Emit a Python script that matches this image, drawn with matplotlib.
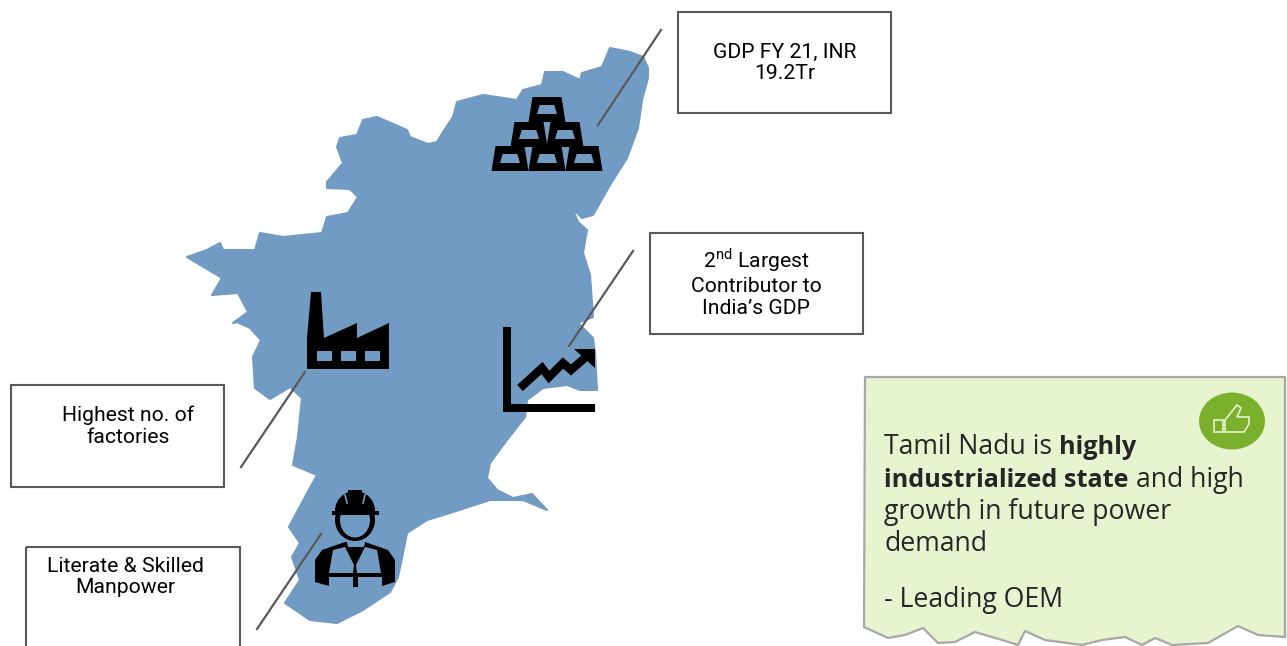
import matplotlib
matplotlib.use("Agg")
import matplotlib.pyplot as plt
from matplotlib.patches import Polygon, Rectangle, Ellipse, Wedge

plt.rcParams["font.family"] = ["Roboto", "DejaVu Sans"]
plt.rcParams["mathtext.fontset"] = "custom"
plt.rcParams["mathtext.rm"] = "Roboto"

MAP_BLUE = "#719BC2"
GREY = "#595959"
NOTE_FILL = "#E6F4CF"
NOTE_EDGE = "#A8A8A8"
GREEN = "#7AB02C"

map_outline = [(610,48),(630,52),(643,57),(648,68),(648,78),(642,100),(638,128),(627,158),(610,185),(593,215),(582,218),
 (572,208),(578,222),(587,230),(583,253),(590,275),(593,317),(578,323),(593,338),(595,353),(597,390),(580,390),
 (567,385),(543,388),(527,400),(525,417),(507,440),(490,463),(487,478),(497,490),(513,498),(532,494),(547,510),
 (523,500),(490,500),(450,513),(427,520),(407,533),(403,553),(398,577),(390,592),(363,610),(337,623),(310,620),
 (285,603),(300,580),(292,557),(300,543),(289,527),(305,497),(317,475),(293,465),(298,437),(300,417),(302,398),
 (290,387),(270,399),(255,388),(253,357),(261,340),(250,328),(237,322),(233,323),(248,312),(238,293),(212,295),
 (222,278),(187,257),(207,250),(220,243),(223,250),(255,250),(260,233),(283,237),(322,233),(327,217),(348,213),(358,197),
 (350,189),(327,188),(327,182),(343,163),(337,147),(340,138),(357,135),(363,120),(377,117),(407,130),(410,137),
 (428,144),(437,142),(443,132),(453,117),(457,102),(483,95),(517,100),(523,90),(542,85),(545,72),(563,72),
 (580,80),(582,73),(602,67)]

box_frames = [(678,12,213,101),(650,233,213,101),(11,385,213,102),(26,547,214,110)]
box_labels = ["GDP FY 21, INR\n19.2Tr", "2$^{\\mathrm{nd}}$ Largest\nContributor to\nIndia’s GDP",
              "Highest no. of\nfactories", "Literate & Skilled\nManpower"]
box_label_pos = [(785,63),(756,282),(128,426),(125,577)]
leaders = [((661,30),(598,125)),((633,251),(569,346)),((305,372),(241,467)),((321,534),(257,629))]

gold_bar_pos = [(547,122),(529,147),(565,147),(510,171),(547,171),(584,171)]

factory = [(307,369),(307,338),(311,292),(321,292),(324,338),(357,323),(357,338),(389,323),(389,369)]
factory_windows = [(317,351,15,10),(341,351,15,10),(365,351,15,10)]

trend_line = [(520,388),(542,368),(549,377),(563,363),(571,370),(587,356)]
trend_head = [(574,349),(595,349),(595,368)]

worker_body = [(315,560),(322,550),(345,542),(365,542),(388,550),(395,560),(395,582),(382,586),(382,577),(358,577),
               (358,587),(353,587),(353,577),(329,577),(329,586),(315,582)]
worker_vest_l = [(333,550),(345,547),(354,565),(353,573),(329,573)]
worker_vest_r = [(377,550),(365,547),(356,565),(357,573),(381,573)]
worker_collar = [(347,542),(365,542),(364,547),(348,547)]

note_outline = [(865,377),(1285,377),(1285,637),(1258,635),(1238,626),(1208,643),(1172,645),(1155,638),(1142,645),
 (1125,637),(1102,640),(1082,645),(1045,640),(1025,631),(1018,645),(1002,640),(975,632),(955,642),(938,643),
 (923,628),(905,635),(888,638),(864,627)]
note_runs = [[("Tamil Nadu is", "normal"), ("highly", "bold")],
             [("industrialized state", "bold"), ("and high", "normal")],
             [("growth in future power", "normal")],
             [("demand", "normal")],
             [("- Leading OEM", "normal")]]
note_baselines = [454, 487, 519, 551, 607]
thumb_hand = [(1225,420),(1237,405),(1241,408),(1237,417),(1249,417),(1249,424),(1244,432),(1225,432)]
thumb_cuff = [(1214,420),(1223,420),(1223,432),(1214,432)]

fig = plt.figure(figsize=(12.87, 6.46), dpi=100)
ax = fig.add_axes([0, 0, 1, 1])
ax.set_xlim(0, 1287)
ax.set_ylim(646, 0)
ax.axis("off")

ax.add_patch(Polygon(map_outline, closed=True, fc=MAP_BLUE, ec=MAP_BLUE, lw=1.5, joinstyle="round", zorder=1))

# gold bars
for cx, yb in gold_bar_pos:
    ax.add_patch(Polygon([(cx-18.5,yb),(cx+18.5,yb),(cx+14.5,yb-25),(cx-14.5,yb-25)], fc="black", ec="none", zorder=2))
    ax.add_patch(Polygon([(cx-10,yb-8),(cx+10,yb-8),(cx+7.3,yb-17),(cx-7.3,yb-17)], fc=MAP_BLUE, ec="none", zorder=3))

# factory
ax.add_patch(Polygon(factory, fc="black", ec="none", zorder=2))
for x, y, w, h in factory_windows:
    ax.add_patch(Rectangle((x, y), w, h, fc=MAP_BLUE, ec="none", zorder=3))

# growth chart
ax.add_patch(Rectangle((503,327), 8, 85, fc="black", ec="none", zorder=2))
ax.add_patch(Rectangle((503,404), 92, 8, fc="black", ec="none", zorder=2))
ax.plot(*zip(*trend_line), color="black", lw=6, solid_joinstyle="miter", solid_capstyle="butt", zorder=2)
ax.add_patch(Polygon(trend_head, fc="black", ec="none", zorder=2))

# worker
ax.add_patch(Polygon(worker_body, fc="black", ec="none", zorder=2))
for pts in (worker_vest_l, worker_vest_r, worker_collar):
    ax.add_patch(Polygon(pts, fc=MAP_BLUE, ec="none", zorder=3))
ax.add_patch(Ellipse((355,520), 40, 42, fc="black", ec="none", zorder=2))
ax.add_patch(Ellipse((355,520), 30, 35, fc=MAP_BLUE, ec="none", zorder=3))
ax.add_patch(Rectangle((340,500), 30, 15, fc=MAP_BLUE, ec="none", zorder=3))
ax.add_patch(Wedge((355,511), 20, 180, 360, fc="black", ec="none", zorder=4))
ax.add_patch(Rectangle((332,510.5), 47, 4.5, fc="black", ec="none", zorder=4))
ax.add_patch(Rectangle((348,490), 14, 6, fc="black", ec="none", zorder=4))
ax.plot([345,347],[495,503], color=MAP_BLUE, lw=1.2, zorder=5)
ax.plot([365,363],[495,503], color=MAP_BLUE, lw=1.2, zorder=5)

# leader lines
for (x0, y0), (x1, y1) in leaders:
    ax.plot([x0, x1], [y0, y1], color=GREY, lw=1.6, zorder=6)

# boxes
for (x, y, w, h), lab, (tx, ty) in zip(box_frames, box_labels, box_label_pos):
    ax.add_patch(Rectangle((x, y), w, h, fc="none", ec=GREY, lw=1.5, zorder=6))
    ax.text(tx, ty, lab, ha="center", va="center", fontsize=15.2, color="black",
            linespacing=1.17, zorder=7)

# note
ax.add_patch(Polygon(note_outline, fc=NOTE_FILL, ec=NOTE_EDGE, lw=1.6, joinstyle="round", zorder=1))
ax.add_patch(Ellipse((1232,421), 66, 57, fc=GREEN, ec="none", zorder=2))
ax.add_patch(Polygon(thumb_hand, fc="none", ec=NOTE_FILL, lw=1.2, zorder=3))
ax.add_patch(Polygon(thumb_cuff, fc="none", ec=NOTE_FILL, lw=1.2, zorder=3))

fig.canvas.draw()
rend = fig.canvas.get_renderer()
for runs, base in zip(note_runs, note_baselines):
    x = 884
    for txt, wt in runs:
        size = 18.2 if wt == "bold" else 19.2
        t = ax.text(x, base, txt, fontsize=size, family="Open Sans", weight=wt, color="#262626",
                    ha="left", va="baseline", zorder=4)
        x = t.get_window_extent(rend).x1 + 7

fig.savefig("out.png", dpi=100)
